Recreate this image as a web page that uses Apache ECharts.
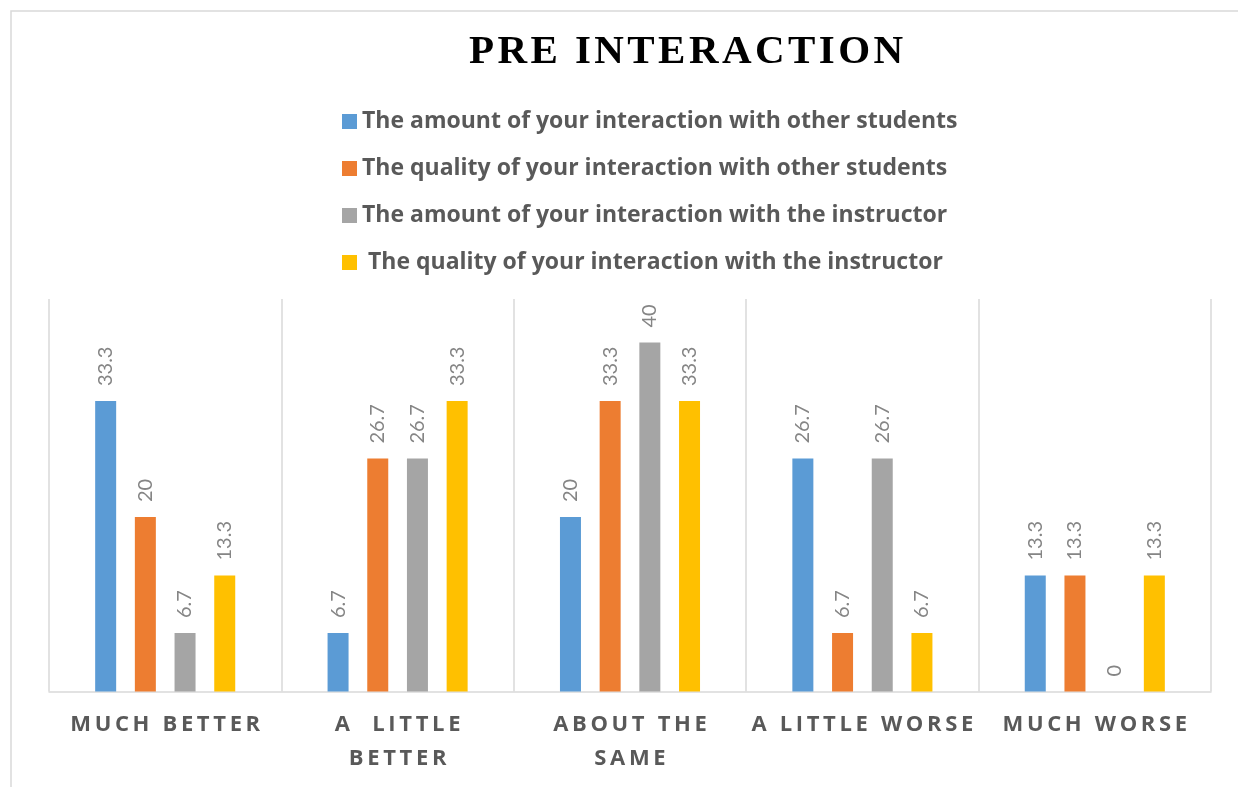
<!DOCTYPE html>
<html>
<head>
<meta charset="utf-8">
<script src="https://cdn.jsdelivr.net/npm/echarts@6/dist/echarts.min.js"></script>
<style>
html,body{margin:0;padding:0;background:#fff;}
#chart{width:1238px;height:787px;}
</style>
</head>
<body>
<div id="chart"></div>
<script>
var TITLE = 'PRE INTERACTION';
var categories = ['MUCH BETTER', 'A  LITTLE\nBETTER', 'ABOUT THE\nSAME', 'A LITTLE WORSE', 'MUCH WORSE'];
var seriesNames = [
  'The amount of your interaction with other students',
  'The quality of your interaction with other students',
  'The amount of your interaction with the instructor',
  ' The quality of your interaction with the instructor'
];
var amountStudents = [33.3, 6.7, 20, 26.7, 13.3];
var qualityStudents = [20, 26.7, 33.3, 6.7, 13.3];
var amountInstructor = [6.7, 26.7, 40, 26.7, 0];
var qualityInstructor = [13.3, 33.3, 33.3, 6.7, 13.3];
var colors = ['#5B9BD5', '#ED7D31', '#A5A5A5', '#FFC000'];

function spaced(s, sep) {
  return s.split('\n').map(function (line) { return line.split('').join(sep); }).join('\n');
}

var values = [amountStudents, qualityStudents, amountInstructor, qualityInstructor];
var series = values.map(function (v, i) {
  return {
    name: seriesNames[i],
    type: 'bar',
    data: v,
    barWidth: 21,
    barGap: '89%',
    itemStyle: { color: colors[i] },
    label: {
      show: true,
      position: 'top',
      rotate: 90,
      align: 'left',
      verticalAlign: 'middle',
      distance: 15,
      color: '#858585',
      fontFamily: 'Lato',
      fontSize: 20
    }
  };
});

var chart = echarts.init(document.getElementById('chart'), null, { renderer: 'canvas' });
chart.setOption({
  backgroundColor: '#ffffff',
  animation: false,
  color: colors,
  title: {
    text: spaced(TITLE, '\u200A'),
    left: 464,
    top: 27,
    textStyle: { fontFamily: 'Liberation Serif', fontWeight: 'bold', fontSize: 41, color: '#000000' }
  },
  legend: {
    orient: 'vertical',
    left: 337,
    top: 105,
    itemWidth: 15,
    itemHeight: 15,
    itemGap: 24,
    icon: 'rect',
    textStyle: { fontFamily: 'Open Sans', fontWeight: 'bold', fontSize: 23, color: '#595959', lineHeight: 23 },
    data: seriesNames
  },
  graphic: [{
    type: 'rect',
    shape: { x: 11, y: 11, width: 1400, height: 1000 },
    style: { fill: null, stroke: '#d9d9d9', lineWidth: 1.5 },
    silent: true
  }],
  grid: { left: 49, right: 27, top: 299, bottom: 95.5 },
  xAxis: {
    type: 'category',
    data: categories,
    axisLine: { show: true, lineStyle: { color: '#d9d9d9', width: 1.5 } },
    axisTick: { show: false },
    splitLine: { show: true, interval: 0, lineStyle: { color: '#d9d9d9', width: 1.5 } },
    axisLabel: {
      interval: 0,
      margin: 16,
      fontFamily: 'Open Sans',
      fontWeight: 'bold',
      fontSize: 22,
      lineHeight: 34,
      color: '#595959',
      formatter: function (v) { return spaced(v, '\u2009'); }
    }
  },
  yAxis: {
    type: 'value',
    min: 0,
    max: 45,
    show: false,
    splitLine: { show: false }
  },
  series: series
});
</script>
</body>
</html>
